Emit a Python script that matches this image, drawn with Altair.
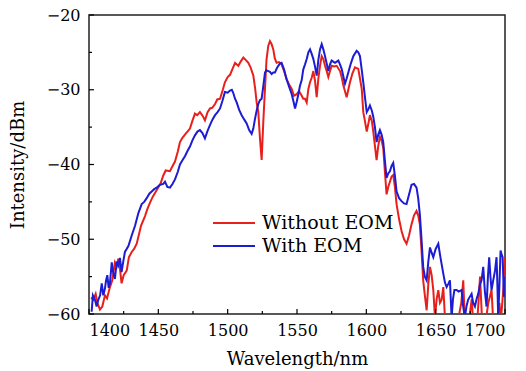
import altair as alt
import pandas as pd

# ---- data ----
red_wl = [1401.5, 1403.1, 1404.8, 1406.0, 1407.9, 1409.6, 1411.5, 1413.0, 1415.1, 1416.8,
          1418.7, 1420.0, 1421.1, 1422.3, 1423.5, 1425.0, 1427.2, 1428.8, 1430.8, 1432.5,
          1434.4, 1436.1, 1437.5, 1440.4, 1442.0, 1444.0, 1446.0, 1447.6, 1449.5, 1451.7,
          1453.5, 1455.3, 1458.4, 1460.0, 1462.0, 1464.0, 1465.6, 1467.5, 1469.2, 1472.8,
          1474.5, 1476.4, 1478.0, 1480.0, 1482.0, 1483.6, 1485.5, 1487.3, 1489.0, 1490.9,
          1492.5, 1494.5, 1496.5, 1498.0, 1500.0, 1501.7, 1503.5, 1505.3, 1507.7, 1509.5,
          1511.3, 1513.0, 1514.9, 1516.5, 1518.5, 1519.8, 1520.9, 1522.1, 1523.3, 1524.5,
          1525.7, 1526.9, 1528.0, 1529.3, 1530.5, 1531.7, 1532.9, 1534.0, 1535.3, 1537.0,
          1538.9, 1540.5, 1542.5, 1544.3, 1546.2, 1547.8, 1549.8, 1551.5, 1553.4, 1554.5,
          1555.8, 1557.0, 1558.2, 1559.4, 1560.6, 1561.8, 1563.0, 1564.2, 1565.4, 1566.6,
          1567.8, 1569.0, 1570.2, 1571.4, 1572.6, 1573.8, 1575.0, 1576.8, 1578.6, 1581.0,
          1582.2, 1583.4, 1584.6, 1585.8, 1587.0, 1588.2, 1590.0, 1591.8, 1594.2, 1595.4,
          1596.7, 1597.8, 1599.0, 1600.3, 1601.5, 1602.6, 1604.0, 1605.0, 1606.2, 1607.4,
          1608.6, 1609.8, 1611.0, 1612.2, 1613.4, 1614.6, 1615.8, 1617.0, 1618.2, 1619.4,
          1620.6, 1621.8, 1623.6, 1625.4, 1627.2, 1629.0, 1630.8, 1632.6, 1634.4, 1636.2,
          1637.4, 1638.6, 1639.8, 1641.0, 1642.2, 1643.5, 1644.7, 1645.9, 1647.1, 1648.3,
          1649.5, 1650.7, 1651.9, 1653.1, 1654.3, 1655.5, 1656.7, 1658.0, 1662.0, 1666.0,
          1668.5, 1669.9, 1671.0, 1674.0, 1676.0, 1677.0, 1680.0, 1682.0, 1683.5, 1686.0,
          1688.0, 1690.3, 1691.5, 1694.0, 1696.0, 1697.0, 1699.5, 1700.0]
red_db = [-57.8, -58.1, -57.3, -58.5, -59.4, -59.0, -57.5, -57.9, -56.4, -55.5,
          -53.1, -53.6, -52.6, -53.9, -55.9, -54.8, -54.2, -52.4, -51.7, -51.3,
          -50.6, -49.3, -48.2, -46.9, -46.0, -45.1, -44.3, -43.8, -43.2, -42.5,
          -41.5, -40.8, -40.9, -40.3, -39.6, -38.3, -37.0, -36.4, -36.0, -35.2,
          -34.2, -33.2, -33.4, -33.0, -33.5, -34.1, -33.0, -32.5, -32.4, -31.9,
          -31.3, -31.2, -30.0, -29.0, -28.3, -28.0, -27.2, -26.4, -26.8, -26.2,
          -25.7, -26.0, -26.4, -27.0, -28.1, -29.8, -31.7, -33.0, -36.5, -39.4,
          -34.3, -29.9, -26.0, -24.1, -23.5, -23.9, -24.6, -25.8, -26.4, -26.3,
          -26.6, -27.4, -28.6, -29.3, -29.9, -30.8, -30.6, -30.2, -30.8, -31.2,
          -31.2, -31.7, -29.9, -29.0, -28.4, -27.5, -28.8, -31.0, -28.5, -26.8,
          -25.5, -25.9, -26.8, -27.5, -28.3, -27.5, -26.8, -26.9, -26.8, -27.5,
          -28.3, -29.4, -30.2, -31.0, -30.0, -29.0, -27.8, -27.0, -27.2, -28.5,
          -29.9, -33.0, -34.2, -35.6, -34.5, -33.4, -34.2, -35.6, -37.5, -39.4,
          -37.5, -36.3, -36.8, -37.8, -41.0, -44.0, -43.0, -42.3, -41.6, -41.4,
          -43.0, -45.3, -47.3, -48.9, -50.0, -50.6, -49.5, -48.0, -46.8, -46.2,
          -46.8, -48.0, -51.5, -55.5, -57.5, -59.5, -56.0, -53.7, -54.8, -56.8,
          -60.5, -58.0, -56.8, -58.5, -58.1, -56.4, -60.5, -61.0, -61.0, -61.0,
          -58.5, -55.5, -61.0, -61.0, -58.0, -61.0, -61.0, -55.0, -61.0, -61.0,
          -58.5, -56.8, -61.0, -61.0, -58.5, -61.0, -55.0, -52.4]

blue_wl = [1401.9, 1402.8, 1404.3, 1405.5, 1406.7, 1408.0, 1409.2, 1410.3, 1411.5, 1412.3,
           1413.2, 1414.2, 1415.1, 1416.4, 1417.5, 1418.7, 1420.0, 1421.1, 1422.3, 1423.5,
           1424.7, 1425.9, 1428.4, 1430.8, 1433.2, 1435.6, 1438.0, 1439.8, 1441.6, 1443.5,
           1445.2, 1447.0, 1448.8, 1451.2, 1453.6, 1454.8, 1456.5, 1458.4, 1460.2, 1462.0,
           1464.0, 1465.6, 1467.5, 1469.2, 1471.0, 1472.8, 1474.5, 1476.4, 1478.2, 1480.0,
           1481.8, 1483.6, 1485.5, 1487.3, 1489.0, 1490.9, 1492.7, 1494.5, 1496.2, 1498.0,
           1500.0, 1501.7, 1503.0, 1504.0, 1505.3, 1506.5, 1508.3, 1510.1, 1512.0, 1513.7,
           1515.5, 1517.3, 1518.5, 1519.7, 1521.0, 1522.1, 1523.3, 1524.5, 1525.7, 1526.9,
           1528.0, 1529.3, 1530.5, 1531.7, 1532.9, 1534.1, 1535.3, 1536.5, 1537.7, 1538.9,
           1540.7, 1542.5, 1544.3, 1546.2, 1547.4, 1548.6, 1549.8, 1551.0, 1552.1, 1553.4,
           1554.5, 1555.8, 1557.0, 1558.2, 1559.4, 1560.6, 1561.8, 1563.0, 1564.2, 1565.4,
           1566.6, 1567.8, 1569.0, 1570.2, 1571.4, 1572.6, 1573.8, 1575.0, 1577.4, 1579.8,
           1581.0, 1582.2, 1583.4, 1584.6, 1585.8, 1587.0, 1588.8, 1590.6, 1593.0, 1594.2,
           1595.4, 1596.6, 1597.8, 1599.0, 1600.3, 1601.5, 1602.6, 1604.0, 1605.0, 1606.2,
           1607.4, 1608.6, 1609.8, 1611.0, 1612.2, 1613.4, 1614.6, 1615.8, 1617.0, 1618.2,
           1619.4, 1620.6, 1621.8, 1623.6, 1625.4, 1627.2, 1629.0, 1630.8, 1632.6, 1634.4,
           1636.2, 1637.4, 1638.6, 1639.8, 1641.0, 1642.2, 1643.5, 1644.7, 1645.9, 1647.1,
           1648.3, 1650.0, 1651.9, 1653.5, 1655.5, 1656.7, 1657.9, 1659.0, 1660.3, 1661.5,
           1662.5, 1663.5, 1665.1, 1666.5, 1668.7, 1669.5, 1671.0, 1672.2, 1673.4, 1675.9,
           1677.0, 1678.3, 1679.5, 1680.7, 1682.0, 1683.1, 1684.3, 1685.5, 1686.7, 1687.7,
           1688.6, 1689.5, 1690.3, 1691.5, 1692.8, 1693.9, 1694.5, 1695.1, 1696.0, 1696.8,
           1697.5, 1698.3, 1699.2, 1700.0]
blue_db = [-59.7, -57.5, -58.1, -59.0, -58.1, -57.5, -55.9, -57.5, -56.6, -55.5,
           -54.8, -56.5, -55.9, -53.1, -54.5, -55.3, -53.0, -53.5, -52.5, -54.4,
           -53.0, -51.7, -50.9, -49.5, -48.2, -46.5, -45.3, -45.0, -44.5, -43.9,
           -43.6, -43.3, -43.1, -42.7, -42.6, -42.3, -43.0, -43.1, -42.6, -42.0,
           -41.0, -40.0, -39.4, -38.9, -38.2, -37.6, -36.8, -36.1, -35.6, -35.4,
           -35.8, -36.5, -35.5, -34.7, -34.0, -33.4, -33.0, -32.5, -31.5, -30.3,
           -30.4, -30.1, -30.0, -30.4, -31.2, -31.7, -32.7, -33.4, -34.0, -34.5,
           -35.4, -35.9, -35.2, -33.9, -32.7, -31.9, -31.4, -31.2, -29.5, -27.7,
           -27.4, -27.5, -27.6, -27.9, -27.7, -27.7, -27.2, -26.8, -26.5, -26.4,
           -27.3, -28.6, -29.6, -30.6, -31.5, -32.5, -31.6, -30.6, -29.5, -28.7,
           -27.3, -26.6, -25.9, -25.0, -24.6, -25.2, -25.9, -26.9, -28.1, -26.0,
           -24.6, -23.9, -24.6, -25.5, -26.5, -27.5, -26.6, -26.1, -26.4, -26.1,
           -26.6, -27.2, -28.2, -29.2, -28.5, -27.7, -26.5, -25.5, -24.8, -25.0,
           -25.5, -27.2, -29.0, -31.0, -33.0, -32.6, -32.1, -32.8, -33.6, -35.0,
           -37.0, -36.0, -35.4, -36.0, -37.0, -39.5, -41.8, -41.2, -40.9, -40.2,
           -39.8, -41.5, -43.6, -44.5, -44.9, -45.2, -45.3, -44.0, -42.7, -42.6,
           -43.1, -44.5, -46.7, -50.0, -53.7, -55.0, -55.5, -53.0, -51.1, -51.8,
           -52.4, -51.3, -50.6, -52.5, -54.6, -55.8, -56.4, -56.0, -55.5, -60.5,
           -58.0, -56.8, -56.8, -57.0, -56.8, -58.5, -60.5, -59.0, -58.1, -57.3,
           -58.5, -59.0, -58.0, -57.3, -56.0, -55.5, -53.7, -57.0, -59.0, -55.0,
           -52.4, -55.0, -56.8, -55.5, -54.2, -52.4, -56.0, -60.5, -56.0, -51.5,
           -52.0, -52.4, -57.7, -55.0]

series_names = ["Without EOM", "With EOM"]
x_major = [1400, 1450, 1500, 1550, 1600, 1650, 1700]
x_minor = [1425, 1475, 1525, 1575, 1625, 1675]
y_major = [-60, -50, -40, -30, -20]
y_minor = [-55, -45, -35, -25]

RED = "#e8201c"
BLUE = "#1c1cd4"
FONT = "DejaVu Serif"

W, H = 416, 299

red_df = pd.DataFrame({"wl": red_wl, "db": red_db})
blue_df = pd.DataFrame({"wl": blue_wl, "db": blue_db})

xs = alt.Scale(domain=[1400, 1700], nice=False, zero=False)
ys = alt.Scale(domain=[-60, -20], nice=False, zero=False)

x_axis = alt.Axis(values=x_major, format="d", grid=False, ticks=False, domain=False,
                  labelFont=FONT, labelFontSize=16, labelColor="black", labelPadding=8,
                  title="Wavelength/nm", titleFont=FONT, titleFontSize=18,
                  titleFontWeight="normal", titleColor="black", titlePadding=12)
y_axis = alt.Axis(values=y_major, grid=False, ticks=False, domain=False,
                  labelFont=FONT, labelFontSize=16, labelColor="black", labelPadding=9,
                  labelExpr="'\u2212' + abs(datum.value)",
                  title="Intensity/dBm", titleFont=FONT, titleFontSize=18,
                  titleFontWeight="normal", titleColor="black", titlePadding=19)

X = lambda f: alt.X(f, scale=xs, axis=x_axis, title="Wavelength/nm")
Y = lambda f: alt.Y(f, scale=ys, axis=y_axis, title="Intensity/dBm")

red_line = alt.Chart(red_df).mark_line(color=RED, strokeWidth=2, clip=True).encode(
    x=X("wl:Q"), y=Y("db:Q"))
blue_line = alt.Chart(blue_df).mark_line(color=BLUE, strokeWidth=2, clip=True).encode(
    x=X("wl:Q"), y=Y("db:Q"))

def xticks(vals, length):
    return alt.Chart(pd.DataFrame({"wl": vals})).mark_rule(color="black", strokeWidth=1.2).encode(
        x=X("wl:Q"), y=alt.value(H), y2=alt.value(H - length))

def yticks(vals, length):
    return alt.Chart(pd.DataFrame({"db": vals})).mark_rule(color="black", strokeWidth=1.2).encode(
        y=Y("db:Q"), x=alt.value(0), x2=alt.value(length))

def legend_entry(name, color, ypos):
    d = pd.DataFrame({"name": [name]})
    rule = alt.Chart(d).mark_rule(color=color, strokeWidth=2).encode(
        x=alt.value(124), x2=alt.value(166), y=alt.value(ypos))
    txt = alt.Chart(d).mark_text(font=FONT, fontSize=19, align="left", baseline="middle",
                                 color="black").encode(
        x=alt.value(173), y=alt.value(ypos), text="name:N")
    return rule + txt

chart = alt.layer(
    red_line, blue_line,
    xticks(x_major, 5), xticks(x_minor, 3),
    yticks(y_major, 5), yticks(y_minor, 3),
    legend_entry(series_names[0], RED, 208),
    legend_entry(series_names[1], BLUE, 231),
).properties(
    width=W, height=H,
    background="white",
    autosize=alt.AutoSizeParams(type="none"),
    padding={"left": 81, "top": 7, "right": 13, "bottom": 56},
).configure_view(stroke="#222", strokeWidth=1.5)

chart.save("out.html", embed_options={"renderer": "svg", "actions": False})
